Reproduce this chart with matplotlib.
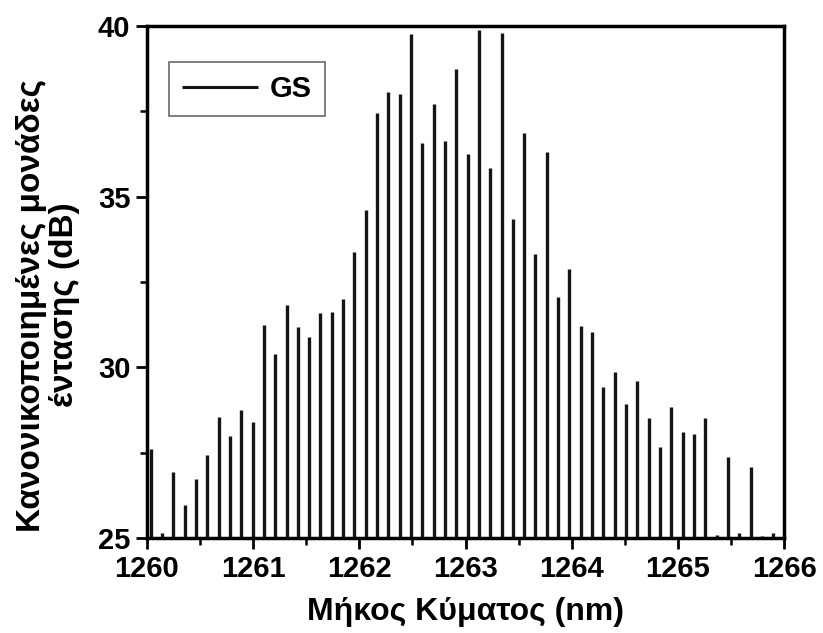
import matplotlib
matplotlib.use("Agg")
import matplotlib.pyplot as plt
from matplotlib.ticker import MultipleLocator

wavelength_nm = [1260.035, 1260.142, 1260.248, 1260.355, 1260.461, 1260.568, 1260.675, 1260.781,
                 1260.888, 1260.994, 1261.101, 1261.208, 1261.314, 1261.421, 1261.527, 1261.634,
                 1261.741, 1261.847, 1261.954, 1262.060, 1262.167, 1262.274, 1262.380, 1262.487,
                 1262.593, 1262.700, 1262.807, 1262.913, 1263.020, 1263.126, 1263.233, 1263.340,
                 1263.446, 1263.553, 1263.659, 1263.766, 1263.873, 1263.979, 1264.086, 1264.192,
                 1264.299, 1264.406, 1264.512, 1264.619, 1264.725, 1264.832, 1264.939, 1265.045,
                 1265.152, 1265.258, 1265.365, 1265.472, 1265.578, 1265.685, 1265.791, 1265.898]
gs_db = [27.6, 25.15, 26.93, 25.97, 26.72, 27.43, 28.55, 27.99,
         28.75, 28.4, 31.24, 30.38, 31.83, 31.17, 30.88, 31.6,
         31.63, 32.01, 33.39, 34.61, 37.44, 38.08, 38.0, 39.77,
         36.58, 37.71, 36.63, 38.74, 36.25, 39.88, 35.85, 39.8,
         34.34, 36.87, 33.32, 36.32, 32.07, 32.88, 31.22, 31.04,
         29.42, 29.87, 28.92, 29.61, 28.53, 27.67, 28.85, 28.11,
         28.04, 28.53, 25.09, 27.38, 25.15, 27.07, 25.05, 25.15]
x_ticks = [1260, 1261, 1262, 1263, 1264, 1265, 1266]
y_ticks = [25, 30, 35, 40]
series_label = "GS"
x_title = "Μήκος Κύματος (nm)"
y_title = "Κανονικοποιημένες μονάδες\nέντασης (dB)"

plt.rcParams['font.family'] = ['Liberation Sans', 'DejaVu Sans']
plt.rcParams['font.weight'] = 'bold'

fig = plt.figure(figsize=(8.23, 6.33), dpi=100)
ax = fig.add_axes([147/823, 1-538/633, (784-147)/823, (538-26)/633])

ax.vlines(wavelength_nm, 25, gs_db, colors='#151515', linewidth=2.4, label=series_label)

ax.set_xlim(1260, 1266)
ax.set_ylim(25, 40)
ax.set_xticks(x_ticks)
ax.set_yticks(y_ticks)
ax.xaxis.set_minor_locator(MultipleLocator(0.5))
ax.yaxis.set_minor_locator(MultipleLocator(2.5))
ax.tick_params(which='major', direction='out', length=8, width=2, labelsize=21, pad=4)
ax.tick_params(which='minor', direction='out', length=5, width=1.8)
for lab in ax.get_xticklabels() + ax.get_yticklabels():
    lab.set_fontweight('bold')
for s in ax.spines.values():
    s.set_linewidth(2.5)

ax.set_xlabel(x_title, fontsize=23, fontweight='bold', labelpad=10)
fig.text(0.058, 0.518, y_title, rotation=90, ha='center', va='center',
         multialignment='center', fontsize=24, fontweight='bold', linespacing=1.1)

leg = ax.legend(loc='upper left', bbox_to_anchor=(0.0345, 0.930), borderaxespad=0,
                fancybox=False, frameon=True, edgecolor='#444444', handlelength=2.6,
                handletextpad=0.4, borderpad=0.45, prop={'weight': 'bold', 'size': 21})
leg.get_frame().set_linewidth(1.2)
for h in leg.legend_handles:
    h.set_linewidth(2.2)

fig.savefig("out.png", dpi=100)
